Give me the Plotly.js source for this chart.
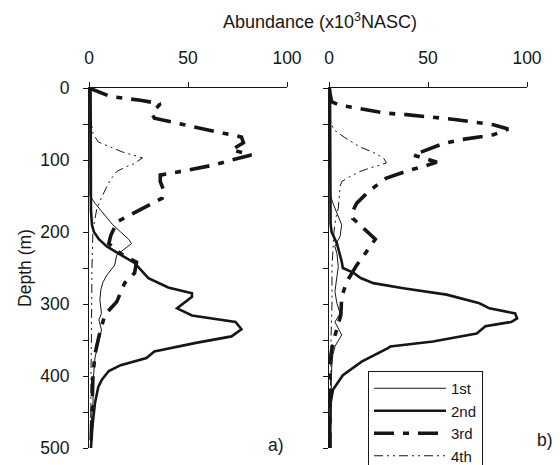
<!DOCTYPE html>
<html>
<head>
<meta charset="utf-8">
<script src="https://cdn.plot.ly/plotly-3.0.1.min.js"></script>
<style>html,body{margin:0;padding:0;background:#fff;}#chart{width:560px;height:465px;}</style>
</head>
<body>
<div id="chart"></div>
<script>
// ---- Data (Abundance x10^3 NASC vs Depth m) ----
var seriesNames = ['1st', '2nd', '3rd', '4th'];
var xTickVals = [0, 50, 100];

// Panel a
var depthA1 = [0,50,100,140,150,160,170,180,190,200,210,216,225,232,246,260,270,280,294,313,322,336,355,375,400,438,460,480,500];
var valA1   = [0.3,0.3,0.3,0.3,0.5,3,6,9,12,16,20,21.5,17,14,13,9,7,6,5.5,6.3,5,6.3,4.7,3,2.3,2,1.2,1,0.8];

var depthA2 = [0,100,150,170,190,200,210,220,230,243,264,277,285,290,306,316,325,335,345,354,366,375,385,393,405,415,438,475,500];
var valA2   = [0.8,0.8,0.8,1,1.5,2.5,5,9,15,23,30,40,52,52,44.5,52,74,77,72,54,33,29,16,10,6.5,4.7,3,1.5,1];

var depthA3 = [0,12,17,22,31,37,42,47,52,63,68,76,86,93,100,107,114,121,130,144,153,167,186,193,205,216,230,242,257,271,297,315,345,370,400,450,500];
var valA3   = [0,11,26,36,33,32,33,41,49,68,77,78,72,82,72,63,50,36,36,38,37,27,14,13,11,10,16,24,23,18,14,8,5,3,2,1.5,1];

var depthA4 = [0,40,54,63,75,89,97,105,109,116,128,142,151,167,180,197,250,300,350,400,450,500];
var valA4   = [0.5,0.8,1.5,2,4.7,17,27,23,19,14,10.6,8,6.5,4,3,2,1.5,1.5,1.2,1,1,0.8];

// Panel b
var depthB1 = [0,100,150,160,174,190,206,220,230,248,262,283,299,313,325,338,343,359,370,380,400,450,500];
var valB1   = [0.5,0.5,0.8,2,4,6.4,5.6,3,4,4.7,4,3,4,5.6,3,5.6,6.4,3,2,1.5,1.2,1,0.8];

var depthB2 = [0,100,180,188,200,216,241,250,256,264,271,278,287,299,306,313,320,325,329,331,341,352,359,361,380,399,419,438,470,500];
var valB2   = [0.5,0.5,0.6,0.8,1.3,4,6.4,7,12,16,22.4,37.5,59.4,76,81,94,95,92,83,79,74.6,52.5,31,30,16.5,7,2,0.8,0.6,0.5];

var depthB3 = [0,10,19,24,28,35,37,40,44,51,57,65,72,77,86,93,100,103,107,114,125,132,142,160,172,181,195,210,227,246,269,290,315,336,354,370,400,450,500];
var valB3   = [0,0.5,1.3,5.6,14,29,39,49,64.5,83,90.5,83,66,58,49,42.5,51,54.5,50,41,29,25.7,20.7,14,11.8,12,17.5,23.4,19,14,9,6.4,6,4,2,1,0.5,0.5,0.5];

var depthB4 = [0,40,49,58,69,82,89,97,104,107,111,116,123,130,137,155,167,180,200,250,300,350,400,450,500];
var valB4   = [0.5,0.5,1,2.5,8,15.7,22,27.5,29,26,20.7,15.7,10.6,6.4,5.6,5,4.7,3.5,2.5,1.5,1.5,1,0.8,0.6,0.5];

// ---- Styles ----
var ink = '#161616';
var styles = [
  {width: 1, dash: 'solid'},
  {width: 2.6, dash: 'solid'},
  {width: 3.6, dash: '20px,9px,6px,9px'},
  {width: 1, dash: '9px,4px,2px,4px,2px,4px'}
];

var panelA = [[depthA1, valA1], [depthA2, valA2], [depthA3, valA3], [depthA4, valA4]];
var panelB = [[depthB1, valB1], [depthB2, valB2], [depthB3, valB3], [depthB4, valB4]];

var traces = [];
panelA.forEach(function (s, i) {
  traces.push({
    type: 'scatter', mode: 'lines', x: s[1], y: s[0], xaxis: 'x', yaxis: 'y',
    name: seriesNames[i], showlegend: true,
    line: {color: ink, width: styles[i].width, dash: styles[i].dash, shape: 'linear'},
    hoverinfo: 'skip'
  });
});
panelB.forEach(function (s, i) {
  traces.push({
    type: 'scatter', mode: 'lines', x: s[1], y: s[0], xaxis: 'x2', yaxis: 'y2',
    name: seriesNames[i], showlegend: false,
    line: {color: ink, width: styles[i].width, dash: styles[i].dash, shape: 'linear'},
    hoverinfo: 'skip'
  });
});

var W = 560, H = 465;
var fontFam = 'Liberation Sans, Arial, sans-serif';
var fs = 17.5;
function xAx(domain) {
  return {
    domain: domain, range: [0, 100], side: 'top', tickvals: xTickVals,
    ticks: 'outside', ticklen: 5, tickwidth: 1, tickcolor: ink,
    showline: true, linecolor: ink, linewidth: 1, showgrid: false, zeroline: false,
    tickfont: {family: fontFam, size: fs, color: ink}, ticklabelstandoff: 11,
    automargin: false, fixedrange: true
  };
}
function yAx(anchor, showLabels) {
  return {
    anchor: anchor, domain: [1 - 448 / H, 1 - 88 / H], range: [500, 0],
    dtick: 100, tick0: 0, ticks: 'outside', ticklen: 5, tickwidth: 1, tickcolor: ink,
    minor: {dtick: 50, ticks: 'outside', ticklen: 5, tickwidth: 1, tickcolor: ink, showgrid: false},
    showline: true, linecolor: ink, linewidth: 1, showgrid: false, zeroline: false,
    showticklabels: showLabels, tickfont: {family: fontFam, size: fs, color: ink},
    ticklabelstandoff: 10, automargin: false, fixedrange: true
  };
}

var ya = yAx('x', true);
ya.title = {text: 'Depth (m)', font: {family: fontFam, size: fs, color: ink}, standoff: 4};
var yb = yAx('x2', false);
yb.matches = 'y';

var xa = xAx([89 / W, 287 / W]);
xa.anchor = 'y';
var xb = xAx([329 / W, 527 / W]);
xb.anchor = 'y2';

var layout = {
  width: W, height: H,
  margin: {l: 0, r: 0, t: 0, b: 0, pad: 0, autoexpand: false},
  paper_bgcolor: '#fff', plot_bgcolor: '#fff',
  font: {family: fontFam, size: fs, color: ink},
  title: {
    text: 'Abundance (x10<sup>3</sup>NASC)',
    x: 320 / W, xanchor: 'center', xref: 'paper',
    y: 1 - 22 / H, yanchor: 'middle', yref: 'paper',
    font: {family: fontFam, size: 18, color: ink}
  },
  xaxis: xa, yaxis: ya, xaxis2: xb, yaxis2: yb,
  showlegend: true,
  legend: {
    x: 368 / W, xanchor: 'left', y: 1 - 371 / H, yanchor: 'top',
    bgcolor: '#fff', bordercolor: ink, borderwidth: 1,
    font: {family: fontFam, size: 15, color: ink},
    itemwidth: 72, tracegroupgap: 0, traceorder: 'normal'
  },
  annotations: [
    {text: 'a)', xref: 'paper', yref: 'paper', x: 276 / W, y: 1 - 445 / H,
     xanchor: 'center', yanchor: 'middle', showarrow: false, font: {family: fontFam, size: fs, color: ink}},
    {text: 'b)', xref: 'paper', yref: 'paper', x: 545 / W, y: 1 - 440 / H,
     xanchor: 'center', yanchor: 'middle', showarrow: false, font: {family: fontFam, size: fs, color: ink}}
  ]
};

Plotly.newPlot('chart', traces, layout, {displayModeBar: false, staticPlot: true});
</script>
</body>
</html>
